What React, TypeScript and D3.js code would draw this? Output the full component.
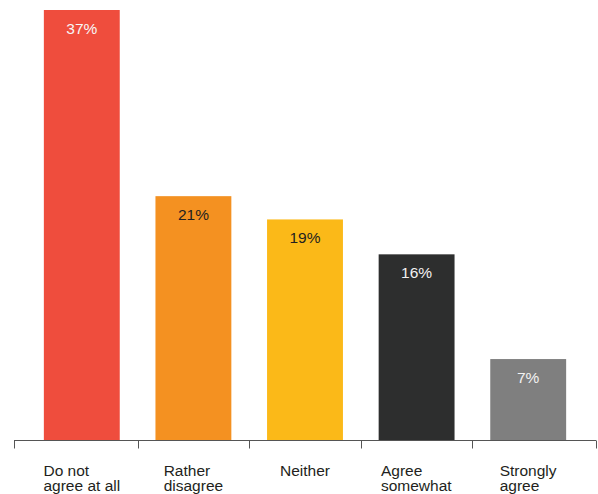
import React, { useLayoutEffect, useRef } from "react";
import * as d3 from "d3";

const categories: string[][] = [
  ["Do not", "agree at all"],
  ["Rather", "disagree"],
  ["Neither"],
  ["Agree", "somewhat"],
  ["Strongly", "agree"],
];
const values: number[] = [37, 21, 19, 16, 7];
const barColors: string[] = ["#EF4D3D", "#F49121", "#FBB918", "#2D2E2E", "#7F7F7F"];
const labelColors: string[] = ["#F7F7F7", "#231F20", "#231F20", "#F2F2F2", "#F2F2F2"];

const W = 598;
const H = 494;
const FONT = "'Liberation Sans', Arial, Helvetica, sans-serif";

export default function App() {
  const labelsRef = useRef<SVGGElement | null>(null);

  const keys = categories.map((c) => c.join(" "));
  const x = d3
    .scaleBand<string>()
    .domain(keys)
    .range([26, 584])
    .paddingInner(0.32)
    .paddingOuter(0.16);
  const baseY = 440.5;
  const y = d3.scaleLinear().domain([0, 37]).range([baseY, 10]);

  const step = x.step();
  const centers = keys.map((k) => (x(k) as number) + x.bandwidth() / 2);
  const axisStart = 14;
  const axisEnd = 596;
  const tickXs = [
    axisStart,
    ...centers.slice(1).map((c) => c - step / 2),
    axisEnd,
  ];

  useLayoutEffect(() => {
    if (!labelsRef.current) return;
    d3.select(labelsRef.current)
      .selectAll<SVGGElement, unknown>("g.cat")
      .each(function (_, i) {
        const bb = this.getBBox();
        d3.select(this).attr(
          "transform",
          `translate(${centers[i] - bb.width / 2},0)`
        );
      });
  });

  return (
    <svg
      width={W}
      height={H}
      style={{ position: "absolute", left: 0, top: 0, background: "#fff" }}
      fontFamily={FONT}
    >
      {keys.map((k, i) => (
        <rect
          key={k}
          x={x(k)}
          y={y(values[i])}
          width={x.bandwidth()}
          height={baseY - y(values[i])}
          fill={barColors[i]}
        />
      ))}
      {keys.map((k, i) => (
        <text
          key={"v" + k}
          x={centers[i]}
          y={y(values[i]) + 24}
          textAnchor="middle"
          fontSize={15.5}
          fill={labelColors[i]}
        >
          {values[i]}%
        </text>
      ))}
      <line
        x1={axisStart}
        x2={axisEnd}
        y1={baseY}
        y2={baseY}
        stroke="#555"
        strokeWidth={1}
      />
      {tickXs.map((t, i) => (
        <line
          key={"t" + i}
          x1={Math.round(t) + 0.5}
          x2={Math.round(t) + 0.5}
          y1={baseY}
          y2={baseY + 8}
          stroke="#555"
          strokeWidth={1}
        />
      ))}
      <g ref={labelsRef}>
        {categories.map((lines, i) => (
          <g className="cat" key={"c" + i}>
            {lines.map((ln, j) => (
              <text
                key={j}
                x={0}
                y={476 + j * 15}
                fontSize={15.5}
                fill="#231F20"
              >
                {ln}
              </text>
            ))}
          </g>
        ))}
      </g>
    </svg>
  );
}
